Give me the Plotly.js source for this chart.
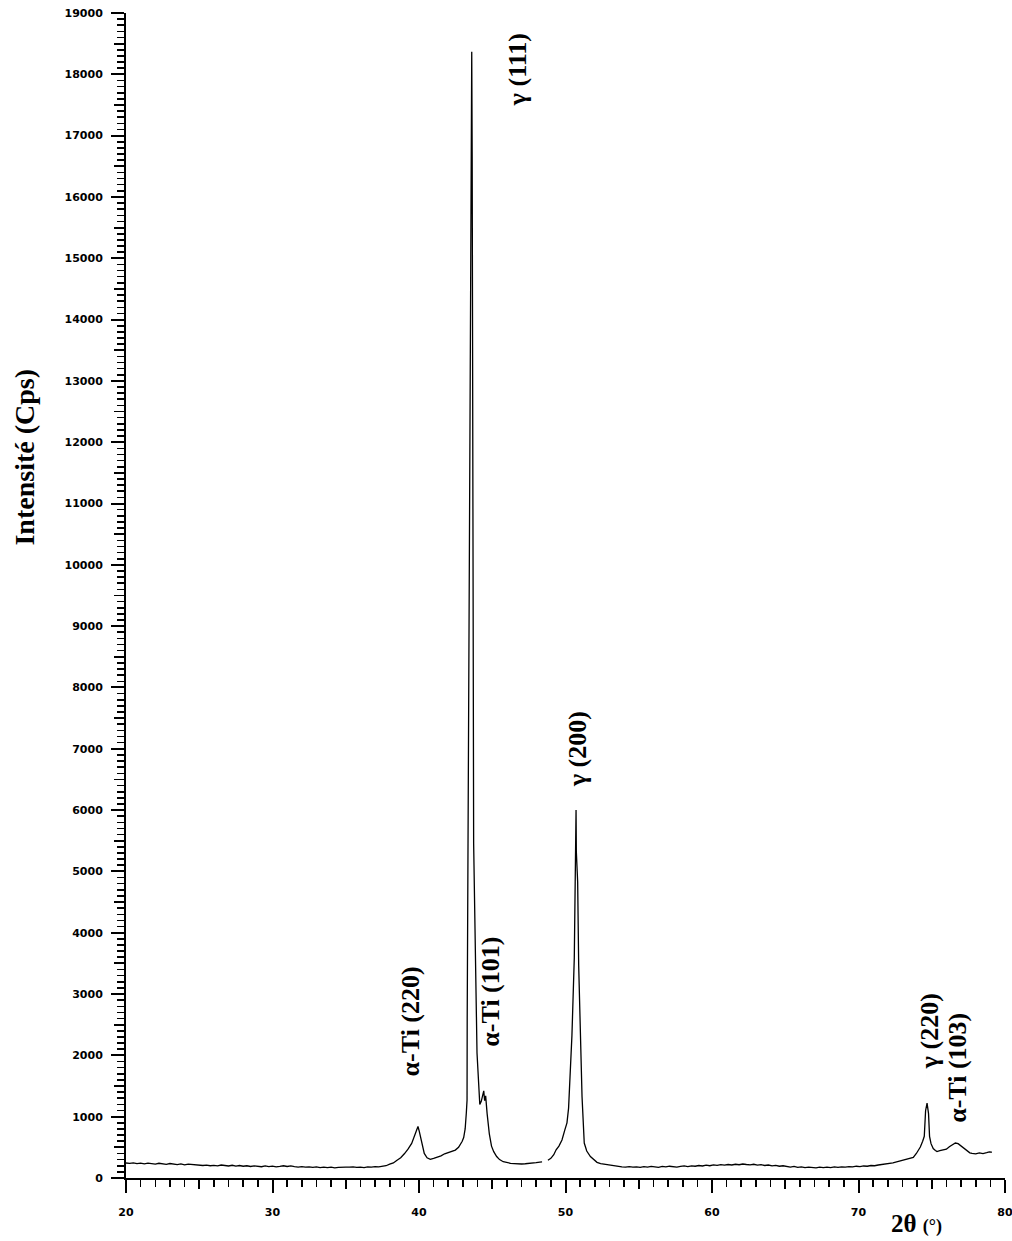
<!DOCTYPE html>
<html>
<head>
<meta charset="utf-8">
<script src="https://cdn.plot.ly/plotly-3.0.1.min.js"></script>
<style>html,body{margin:0;padding:0;background:#fff;}#chart{width:1012px;height:1241px;}</style>
</head>
<body>
<div id="chart"></div>
<script>
// 2θ (degrees) and intensity (Cps)
const twoTheta = [
20.00,20.25,20.50,20.75,21.00,21.25,21.50,21.75,22.00,22.25,22.50,22.75,23.00,23.25,23.50,23.75,24.00,24.25,24.50,24.75,
25.00,25.25,25.50,25.75,26.00,26.25,26.50,26.75,27.00,27.25,27.50,27.75,28.00,28.25,28.50,28.75,29.00,29.25,29.50,29.75,
30.00,30.25,30.50,30.75,31.00,31.25,31.50,31.75,32.00,32.25,32.50,32.75,33.00,33.25,33.50,33.75,34.00,34.25,34.50,34.75,
35.00,35.25,35.50,35.75,36.00,36.25,36.50,36.75,37.00,37.25,37.50,37.75,38.00,38.25,38.50,38.75,39.00,39.25,39.50,39.70,
39.82,39.93,40.02,40.10,40.20,40.36,40.55,40.77,41.00,41.23,41.50,41.75,41.91,42.20,42.48,42.70,42.82,42.95,43.05,43.15,
43.23,43.28,43.29,43.39,43.50,43.60,43.63,43.65,43.67,43.73,43.96,44.06,44.15,44.25,44.35,44.42,44.48,44.55,44.65,44.80,
44.95,45.10,45.30,45.50,45.75,46.00,46.25,46.50,46.75,47.00,47.25,47.50,47.75,48.00,48.25,48.40,48.60,48.80,49.00,49.20,
49.36,49.55,49.76,49.95,50.10,50.21,50.33,50.44,50.60,50.70,50.72,50.74,50.83,50.90,51.01,51.13,51.28,51.45,51.70,51.90,
52.15,52.40,52.60,52.85,53.10,53.35,53.60,53.85,54.10,54.35,54.60,54.85,55.10,55.35,55.60,55.85,56.10,56.35,56.60,56.85,
57.10,57.35,57.60,57.85,58.10,58.35,58.60,58.85,59.10,59.35,59.60,59.85,60.10,60.35,60.60,60.85,61.10,61.35,61.60,61.85,
62.10,62.35,62.60,62.85,63.10,63.35,63.60,63.85,64.10,64.35,64.60,64.85,65.10,65.35,65.60,65.85,66.10,66.35,66.60,66.85,
67.10,67.35,67.60,67.85,68.10,68.35,68.60,68.85,69.10,69.35,69.60,69.85,70.10,70.35,70.60,70.85,71.10,71.35,71.60,71.85,
72.10,72.35,72.60,72.85,73.10,73.35,73.55,73.74,73.95,74.10,74.22,74.38,74.49,74.58,74.68,74.78,74.85,74.95,75.10,75.25,
75.36,75.55,75.79,76.00,76.20,76.40,76.61,76.80,77.00,77.20,77.41,77.60,77.75,78.00,78.25,78.50,78.75,78.93,79.10
];
const intensity = [
245,240,248,236,242,230,244,238,226,240,232,222,236,228,218,230,214,226,220,208,
214,204,210,200,206,198,212,202,196,208,194,204,192,200,188,198,190,184,196,186,
194,182,190,200,188,196,184,178,186,176,182,172,180,170,178,168,176,166,174,170,
178,176,182,172,178,170,182,176,186,180,192,200,226,246,290,330,395,470,565,690,
770,840,760,660,540,400,330,305,320,335,360,395,410,430,455,500,540,600,660,800,
1060,1270,2610,7880,15130,18370,16650,13000,10800,5460,2040,1480,1200,1250,1380,1420,1260,1340,1050,720,
520,430,350,300,265,250,240,236,230,228,232,236,244,250,260,262,null,290,320,380,
460,520,620,780,900,1140,1810,2330,3590,5320,6000,5320,4830,3470,2300,1320,570,440,350,300,
255,236,228,216,204,196,188,182,178,184,176,182,174,186,178,190,182,174,188,180,
192,184,178,188,196,186,198,192,204,196,210,200,214,206,218,210,220,212,224,216,
228,220,214,224,210,218,204,212,198,206,192,200,186,178,190,172,182,168,176,170,
164,176,168,178,170,180,172,182,176,186,180,192,186,196,192,204,200,212,218,226,
236,246,262,276,294,306,320,335,400,450,505,600,680,1100,1220,1050,680,560,480,450,
430,445,460,470,510,540,570,560,520,490,445,410,400,395,410,398,412,425,420
];

const xMajorTicks = [20,30,40,50,60,70,80];
const xTickText = ["20","30","40","50","60","70","80"];
const xMidTicks = [25,35,45,55,65,75];
const yMajorTicks = [0,1000,2000,3000,4000,5000,6000,7000,8000,9000,10000,11000,12000,13000,14000,15000,16000,17000,18000,19000];
const yTickText = ["0","1000","2000","3000","4000","5000","6000","7000","8000","9000","10000","11000","12000","13000","14000","15000","16000","17000","18000","19000"];
const yMidTicks = [500,1500,2500,3500,4500,5500,6500,7500,8500,9500,10500,11500,12500,13500,14500,15500,16500,17500,18500];

const peakLabels = ["γ (111)","γ (200)","α-Ti (220)","α-Ti (101)","γ (220)","α-Ti (103)"];
const peakLabelX = [46.70,50.87,39.41,44.82,74.90,76.74];
const peakLabelY = [18070,7000,2560,3033,2400,1800];

const yTitle = "Intensité (Cps)";
const xTitle = "<b>2θ</b> <b><span style='font-size:18px'>(°)</span></b>";

const tickFont = {family:"DejaVu Sans", size:11, color:"#000", weight:700};
const labelFont = {family:"Liberation Serif", size:26, color:"#000", weight:700};

const trace = {
  x: twoTheta, y: intensity, type:"scatter", mode:"lines",
  line:{color:"#000", width:1.3}, connectgaps:false, hoverinfo:"skip"
};
const dummy = {x:[20], y:[0], xaxis:"x2", yaxis:"y2", mode:"markers", marker:{opacity:0}, hoverinfo:"skip", showlegend:false};

const annotations = peakLabels.map((t,i)=>({
  text:"<b>"+t+"</b>", x:peakLabelX[i], y:peakLabelY[i], xref:"x", yref:"y",
  textangle:-90, showarrow:false, xanchor:"center", yanchor:"middle", font:labelFont
}));
annotations.push({
  text:"<b>"+yTitle+"</b>", x:0, xref:"paper", xshift:-101, y:11750, yref:"y",
  textangle:-90, showarrow:false, xanchor:"center", yanchor:"middle",
  font:{family:"Liberation Serif", size:28, color:"#000"}
});
annotations.push({
  text:xTitle, x:73.98, xref:"x", y:0, yref:"paper", yshift:-45,
  showarrow:false, xanchor:"center", yanchor:"middle",
  font:{family:"Liberation Serif", size:25, color:"#000"}
});

const layout = {
  width:1012, height:1241,
  margin:{l:126, r:7, t:13, b:63, pad:0},
  paper_bgcolor:"#fff", plot_bgcolor:"#fff",
  showlegend:false,
  xaxis:{
    range:[20,80], showgrid:false, zeroline:false, showline:true, linecolor:"#000", linewidth:2,
    ticks:"outside", tickmode:"array", tickvals:xMajorTicks, ticktext:xTickText, ticklen:13, tickwidth:2, tickcolor:"#000",
    tickfont:tickFont, ticklabelstandoff:10, ticklabeloverflow:"allow",
    minor:{dtick:1, tick0:20, ticks:"outside", ticklen:7, tickwidth:1.6, tickcolor:"#000", showgrid:false}
  },
  yaxis:{
    range:[0,19000], showgrid:false, zeroline:false, showline:true, linecolor:"#000", linewidth:2,
    ticks:"outside", tickmode:"array", tickvals:yMajorTicks, ticktext:yTickText, ticklen:13, tickwidth:2, tickcolor:"#000",
    tickfont:tickFont, ticklabelstandoff:6, ticklabeloverflow:"allow",
    minor:{dtick:100, tick0:0, ticks:"outside", ticklen:7, tickwidth:1.6, tickcolor:"#000", showgrid:false}
  },
  xaxis2:{
    range:[20,80], overlaying:"x", anchor:"y", showgrid:false, zeroline:false, showline:false,
    ticks:"outside", tickmode:"array", tickvals:xMidTicks, ticklen:10, tickwidth:1.8, tickcolor:"#000",
    showticklabels:false
  },
  yaxis2:{
    range:[0,19000], overlaying:"y", anchor:"x", side:"left", showgrid:false, zeroline:false, showline:false,
    ticks:"outside", tickmode:"array", tickvals:yMidTicks, ticklen:11, tickwidth:1.8, tickcolor:"#000",
    showticklabels:false
  },
  annotations:annotations
};

Plotly.newPlot("chart", [trace, dummy], layout, {staticPlot:true, displayModeBar:false});
</script>
</body>
</html>
